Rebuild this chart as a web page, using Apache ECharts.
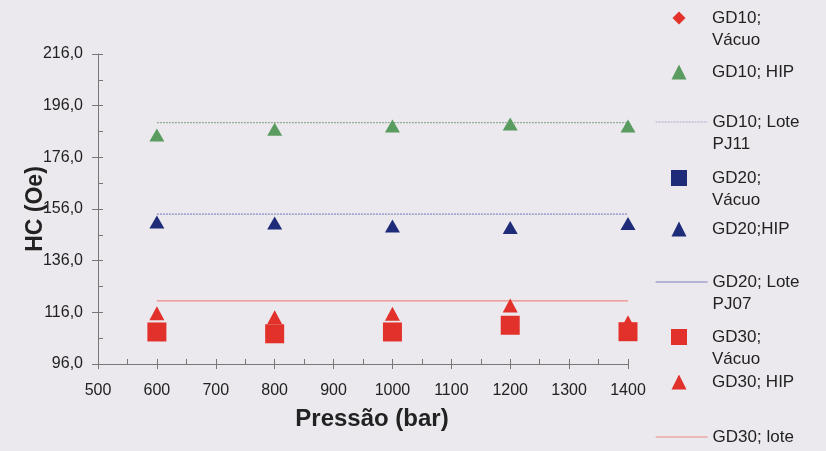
<!DOCTYPE html>
<html>
<head>
<meta charset="utf-8">
<script src="https://cdn.jsdelivr.net/npm/echarts@6/dist/echarts.min.js"></script>
<style>
  html, body { margin: 0; padding: 0; background: #ebe9ee; }
  #chart { width: 826px; height: 451px; }
</style>
</head>
<body>
<div id="chart"></div>
<script>
// Pressure levels (bar)
var pressures = [600, 800, 1000, 1200, 1400];

// Coercive force HC (Oe) per batch and sintering route
var gd10Vacuo = [];
var gd10Hip = [184.6, 186.9, 188.1, 188.9, 188.1];
var gd10LotePJ11 = [189.4, 189.4, 189.4, 189.4, 189.4];
var gd20Vacuo = [];
var gd20Hip = [151.0, 150.6, 149.4, 148.8, 150.4];
var gd20LotePJ07 = [154.0, 154.0, 154.0, 154.0, 154.0];
var gd30Vacuo = [108.4, 107.7, 108.4, 111.0, 108.5];
var gd30Hip = [115.6, 114.1, 115.5, 118.6, 112.2];
var gd30Lote = [120.4, 120.4, 120.4, 120.4, 120.4];

// Axis ticks
var yTicks = [96, 116, 136, 156, 176, 196, 216];
var yMinorTicks = [96, 106, 116, 126, 136, 146, 156, 166, 176, 186, 196, 206, 216];

// Legend captions (wrapped as in the key)
var seriesNames = ['GD10; Vácuo', 'GD10; HIP', 'GD10; Lote PJ11', 'GD20; Vácuo', 'GD20;HIP',
                   'GD20; Lote PJ07', 'GD30; Vácuo', 'GD30; HIP', 'GD30; lote'];
var legendCaptions = ['GD10;\nVácuo', 'GD10; HIP', 'GD10; Lote\nPJ11', 'GD20;\nVácuo', 'GD20;HIP',
                      'GD20; Lote\nPJ07', 'GD30;\nVácuo', 'GD30; HIP', 'GD30; lote'];

function pairs(vals) {
  return vals.map(function (v, i) { return [pressures[i], v]; });
}

var RED = '#e2302a', GREEN = '#5a9c60', NAVY = '#1d2b78';
var FONT = 'Liberation Sans, Arial, sans-serif';

var series = [
  { name: seriesNames[0], type: 'scatter', symbol: 'diamond', symbolSize: 13, itemStyle: { color: RED, opacity: 1 }, data: pairs(gd10Vacuo) },
  { name: seriesNames[1], type: 'scatter', symbol: 'triangle', symbolSize: [15, 13], itemStyle: { color: GREEN, opacity: 1 }, data: pairs(gd10Hip) },
  { name: seriesNames[2], type: 'line', symbol: 'none', lineStyle: { color: '#93ab93', width: 1.2, type: [2, 1] }, itemStyle: { color: '#93ab93' }, data: pairs(gd10LotePJ11), z: 1 },
  { name: seriesNames[3], type: 'scatter', symbol: 'rect', symbolSize: 16, itemStyle: { color: NAVY, opacity: 1 }, data: pairs(gd20Vacuo) },
  { name: seriesNames[4], type: 'scatter', symbol: 'triangle', symbolSize: [15, 13], itemStyle: { color: NAVY, opacity: 1 }, data: pairs(gd20Hip) },
  { name: seriesNames[5], type: 'line', symbol: 'none', lineStyle: { color: '#8a8ac4', width: 1.2, type: [2, 1] }, itemStyle: { color: '#8a8ac4' }, data: pairs(gd20LotePJ07), z: 1 },
  { name: seriesNames[6], type: 'scatter', symbol: 'rect', symbolSize: 19, itemStyle: { color: RED, opacity: 1 }, data: pairs(gd30Vacuo) },
  { name: seriesNames[7], type: 'scatter', symbol: 'triangle', symbolSize: [15, 14], itemStyle: { color: RED, opacity: 1 }, data: pairs(gd30Hip) },
  { name: seriesNames[8], type: 'line', symbol: 'none', lineStyle: { color: '#ee8a84', width: 1.2 }, itemStyle: { color: '#ee8a84' }, data: pairs(gd30Lote), z: 1 }
];

// One key entry per series, each placed on its own row (icon centre y)
var legendRows = [18, 72, 122, 178, 229, 282, 337, 382, 437];
var legendLines = { 2: '#a9a9d2', 5: '#7f7fc0', 8: '#ee8a84' };
var legendIconSize = { diamond: 13, triangle: 15, rect: 16 };
var legends = seriesNames.map(function (name, i) {
  var twoLines = legendCaptions[i].indexOf('\n') >= 0;
  var isLine = series[i].type === 'line';
  var entry = { name: name };
  var size = 15;
  if (isLine) {
    // plain stroke, no point marker
    entry.itemStyle = { opacity: 0 };
    entry.lineStyle = { color: legendLines[i], width: 1.2, type: i === 2 ? [2, 1] : 'solid' };
  } else {
    entry.icon = series[i].symbol;
    size = legendIconSize[series[i].symbol];
  }
  // a leading blank line keeps the first caption line level with the icon
  var caption = twoLines ? ' \n' + legendCaptions[i] : legendCaptions[i];
  return {
    data: [entry],
    orient: 'vertical',
    left: isLine ? 655 : 679 - size / 2,
    top: legendRows[i] - (twoLines ? 33 : 11),
    padding: 0,
    itemWidth: isLine ? 52 : size,
    itemHeight: isLine ? 15 : size,
    selectedMode: false,
    formatter: function () { return caption; },
    textStyle: {
      fontFamily: FONT, fontSize: 17, color: '#222', lineHeight: 22,
      padding: isLine ? 0 : [0, 0, 0, 712 - (679 + size / 2) - 5]
    }
  };
});

var chart = echarts.init(document.getElementById('chart'), null, { renderer: 'canvas' });
chart.setOption({
  backgroundColor: '#ebe9ee',
  animation: false,
  legend: legends,
  grid: { left: 98, right: 198, top: 54, bottom: 87, containLabel: false },
  xAxis: [
    {
      type: 'value', min: 500, max: 1400, interval: 100,
      name: 'Pressão (bar)', nameLocation: 'middle', nameGap: 43,
      nameTextStyle: { fontFamily: FONT, fontSize: 24, fontWeight: 'bold', color: '#222', padding: [0, 0, 0, 18] },
      axisLine: { lineStyle: { color: '#777', width: 1 } },
      axisTick: { length: 5, inside: false, lineStyle: { color: '#777' } },
      axisLabel: { margin: 19, fontFamily: FONT, fontSize: 16, color: '#222', formatter: function (v) { return String(v); } },
      splitLine: { show: false }
    },
    {
      type: 'value', min: 500, max: 1400, interval: 50, position: 'bottom',
      axisLine: { show: false },
      axisTick: { length: 5, inside: true, lineStyle: { color: '#777' } },
      axisLabel: { show: false },
      splitLine: { show: false }
    }
  ],
  yAxis: [
    {
      type: 'value', min: 96, max: 216,
      name: 'HC (Oe)', nameLocation: 'middle', nameGap: 51, nameRotate: 90, nameMoveOverlap: false,
      nameTextStyle: { fontFamily: FONT, fontSize: 23, fontWeight: 'bold', color: '#222' },
      axisLine: { show: true, lineStyle: { color: '#777', width: 1 } },
      axisTick: { show: true, length: 6, inside: false, customValues: yTicks, lineStyle: { color: '#777' } },
      axisLabel: {
        margin: 15, fontFamily: FONT, fontSize: 16, color: '#222', customValues: yTicks,
        formatter: function (v) { return v.toFixed(1).replace('.', ','); }
      },
      splitLine: { show: false }
    },
    {
      type: 'value', min: 96, max: 216, position: 'left', offset: 0,
      axisLine: { show: false },
      axisTick: { show: true, length: 5, inside: true, customValues: yMinorTicks, lineStyle: { color: '#777' } },
      axisLabel: { show: false },
      splitLine: { show: false }
    }
  ],
  series: series
});
</script>
</body>
</html>
